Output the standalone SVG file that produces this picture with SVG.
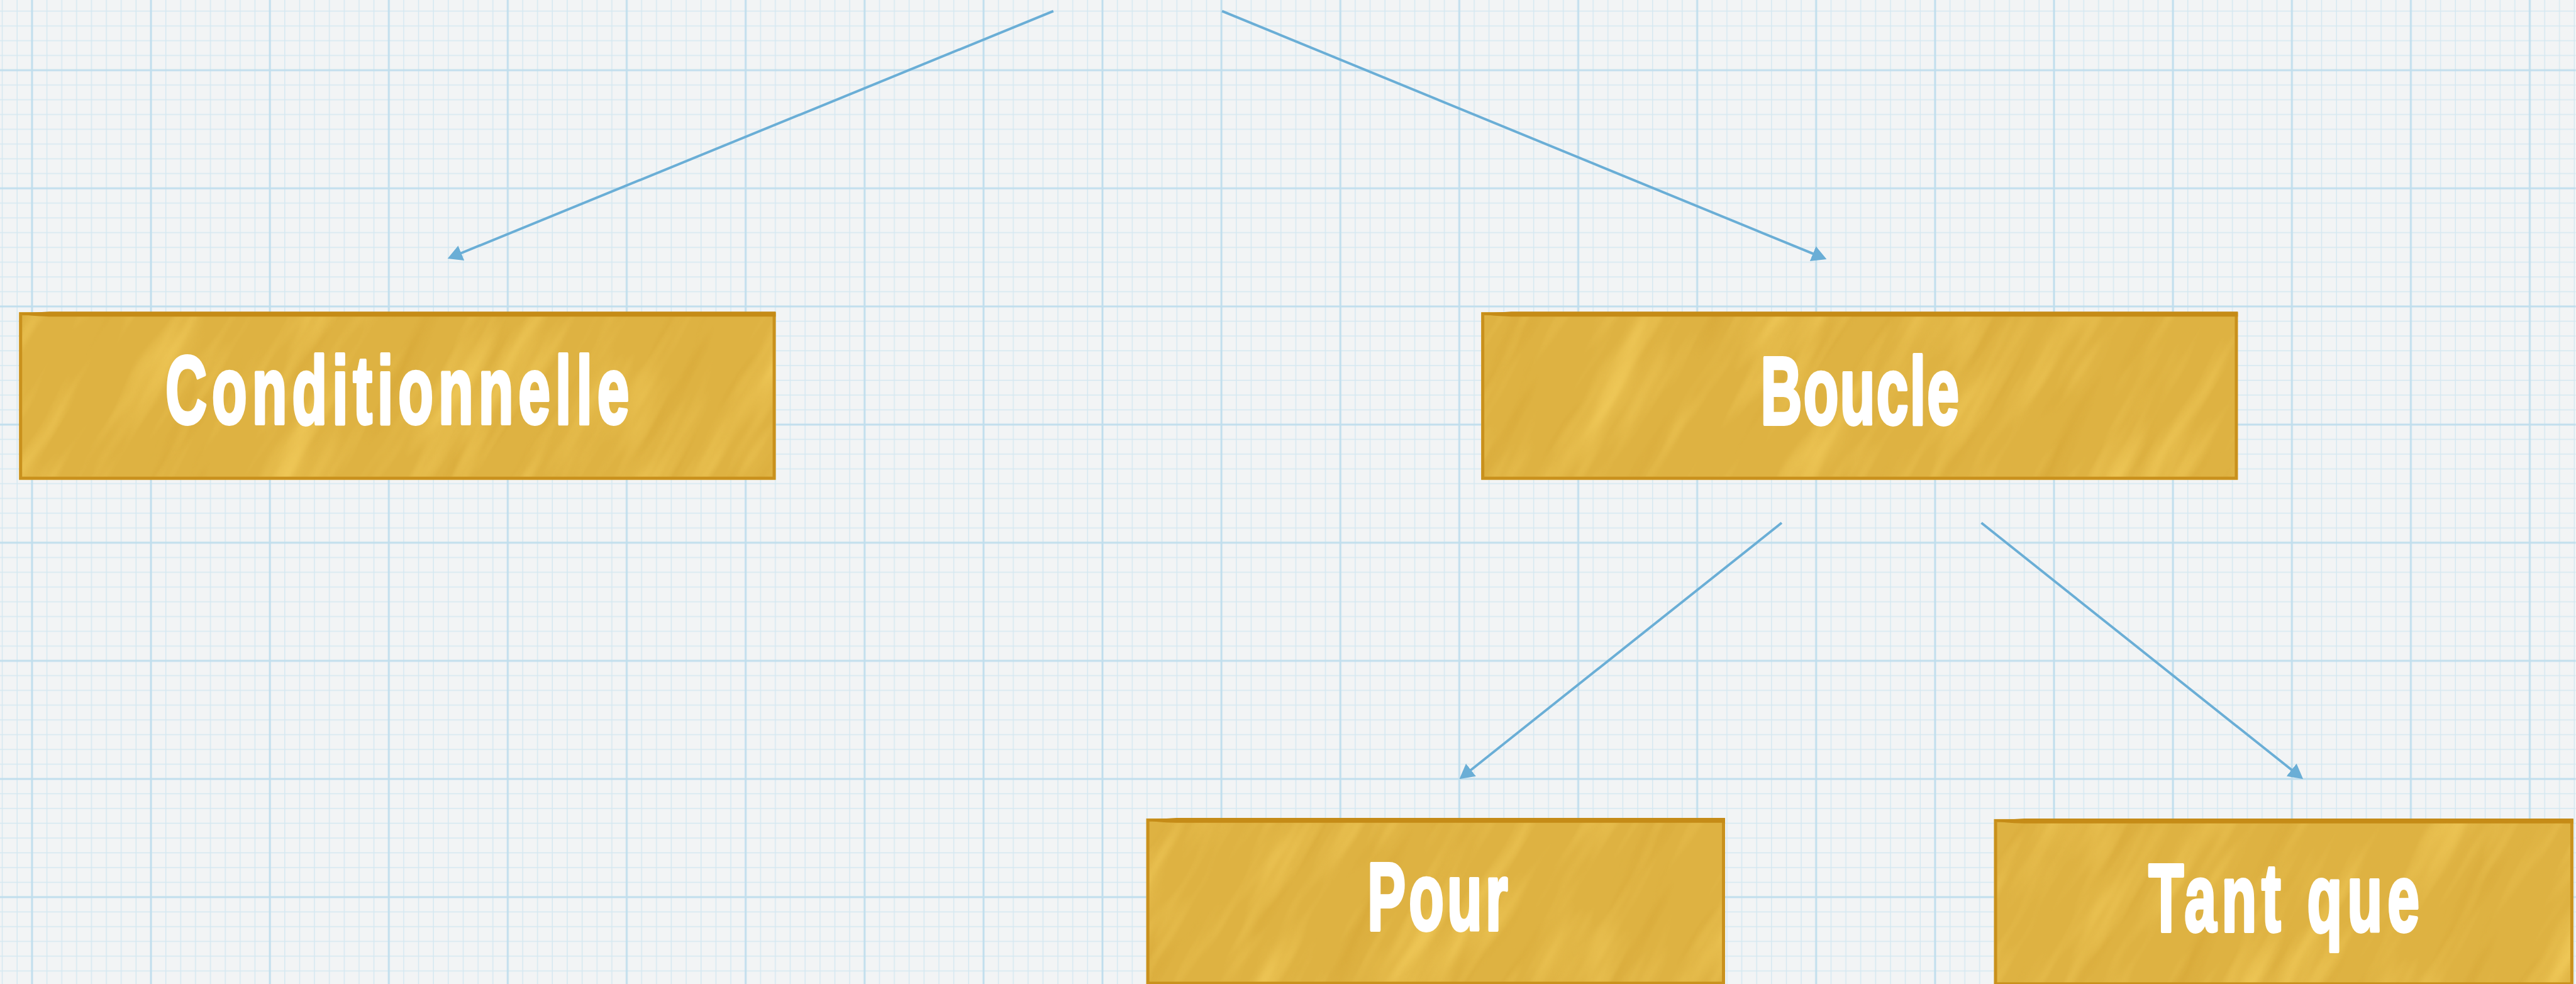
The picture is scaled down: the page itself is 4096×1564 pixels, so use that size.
<svg xmlns="http://www.w3.org/2000/svg" width="4096" height="1564" viewBox="0 0 4096 1564">
<defs>
<style>
.minor{stroke:#d5e8f1;stroke-width:1.5}
.major{stroke:#c0deed;stroke-width:3}
.box{fill:url(#gold)}
.edge{fill:none;stroke:#c9911d;stroke-width:5}
.band{fill:#c58b17}
.lbl{font-family:"Liberation Sans",Arial,sans-serif;font-weight:bold;font-size:155px;fill:#ffffff;stroke:#ffffff;stroke-width:6;stroke-linejoin:round;stroke-linecap:round;text-anchor:middle}
.con{fill:none;stroke:#6aaed6;stroke-width:4}
</style>
<pattern id="grid" patternUnits="userSpaceOnUse" x="-44.6" y="18.1" width="193.2" height="191.8">
<rect width="193.2" height="191.8" fill="#f2f4f5"/>
<g class="minor">
<line x1="0" y1="0" x2="0" y2="191.8"/><line x1="24.15" y1="0" x2="24.15" y2="191.8"/><line x1="48.3" y1="0" x2="48.3" y2="191.8"/><line x1="72.45" y1="0" x2="72.45" y2="191.8"/><line x1="120.75" y1="0" x2="120.75" y2="191.8"/><line x1="144.9" y1="0" x2="144.9" y2="191.8"/><line x1="169.05" y1="0" x2="169.05" y2="191.8"/><line x1="193.2" y1="0" x2="193.2" y2="191.8"/>
<line x1="0" y1="0" x2="193.2" y2="0"/><line x1="0" y1="23.975" x2="193.2" y2="23.975"/><line x1="0" y1="47.95" x2="193.2" y2="47.95"/><line x1="0" y1="71.925" x2="193.2" y2="71.925"/><line x1="0" y1="119.875" x2="193.2" y2="119.875"/><line x1="0" y1="143.85" x2="193.2" y2="143.85"/><line x1="0" y1="167.825" x2="193.2" y2="167.825"/><line x1="0" y1="191.8" x2="193.2" y2="191.8"/>
</g>
<g class="major">
<line x1="96.6" y1="0" x2="96.6" y2="191.8"/>
<line x1="0" y1="95.9" x2="193.2" y2="95.9"/>
</g>
</pattern>
<filter id="streakF" x="0" y="0" width="1" height="1" filterUnits="objectBoundingBox" color-interpolation-filters="sRGB">
<feTurbulence type="fractalNoise" baseFrequency="0.02 0.0035" numOctaves="3" seed="7" stitchTiles="stitch" result="n"/>
<feColorMatrix in="n" type="matrix" values="0 0 0 0 0.95  0 0 0 0 0.80  0 0 0 0 0.36  1.9 0 0 0 -0.9" result="light"/>
<feColorMatrix in="n" type="matrix" values="0 0 0 0 0.83  0 0 0 0 0.64  0 0 0 0 0.20  0 1.6 0 0 -0.95" result="dark"/>
<feMerge><feMergeNode in="dark"/><feMergeNode in="light"/></feMerge>
</filter>
<pattern id="gold" patternUnits="userSpaceOnUse" width="600" height="600" patternTransform="rotate(30)">
<rect width="600" height="600" fill="#deb242"/>
<rect width="600" height="600" fill="#000" filter="url(#streakF)"/>
</pattern>
<marker id="ah" markerUnits="userSpaceOnUse" markerWidth="24" markerHeight="26" viewBox="0 0 24 26" refX="4" refY="13" orient="auto">
<path d="M0,0 L24,13 L0,26 Z" fill="#6aaed6"/>
</marker>
</defs>
<g transform="scale(0.9789)">
<rect id="paper" x="0" y="0" width="4184" height="1598" fill="url(#grid)"/>

<g id="connectors">
<line class="con" x1="1711" y1="18" x2="745.5" y2="412.4" marker-end="url(#ah)"/>
<line class="con" x1="1985" y1="18" x2="2948.5" y2="413.4" marker-end="url(#ah)"/>
<line class="con" x1="2894" y1="849" x2="2386.2" y2="1252.6" marker-end="url(#ah)"/>
<line class="con" x1="3218.4" y1="849" x2="3725.4" y2="1252.5" marker-end="url(#ah)"/>
</g>

<g id="node-conditionnelle">
<rect class="box" x="31" y="507" width="1229" height="272"/>
<rect class="edge" x="33.5" y="509.5" width="1224" height="267"/>
<path class="band" d="M31,509 L80,506 L1260,506 L1260,514 L80,514 Q45,513 31,509 Z"/>
<text class="lbl" transform="scale(0.6,1)" x="1075.8" y="688" textLength="1255" lengthAdjust="spacing">Conditionnelle</text>
</g>

<g id="node-boucle">
<rect class="box" x="2406" y="507" width="1229" height="272"/>
<rect class="edge" x="2408.5" y="509.5" width="1224" height="267"/>
<path class="band" d="M2406,509 L2455,506 L3635,506 L3635,514 L2455,514 Q2420,513 2406,509 Z"/>
<text class="lbl" transform="scale(0.6,1)" x="5035" y="689" textLength="537" lengthAdjust="spacing">Boucle</text>
</g>

<g id="node-pour">
<rect class="box" x="1862" y="1329" width="940" height="270"/>
<rect class="edge" x="1864.5" y="1331.5" width="935" height="265"/>
<path class="band" d="M1862,1331 L1911,1328 L2802,1328 L2802,1336 L1911,1336 Q1876,1335 1862,1331 Z"/>
<text class="lbl" transform="scale(0.6,1)" x="3891.7" y="1510" textLength="380" lengthAdjust="spacing">Pour</text>
</g>

<g id="node-tantque">
<rect class="box" x="3239" y="1330" width="941" height="270"/>
<rect class="edge" x="3241.5" y="1332.5" width="936" height="265"/>
<path class="band" d="M3239,1332 L3288,1329 L4180,1329 L4180,1337 L3288,1337 Q3253,1336 3239,1332 Z"/>
<text class="lbl" transform="scale(0.6,1)" x="6183.3" y="1512" textLength="733" lengthAdjust="spacing">Tant que</text>
</g>
</g>
</svg>
